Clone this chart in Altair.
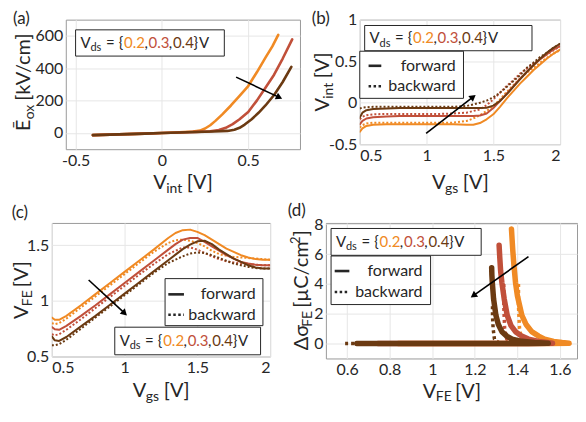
import altair as alt
import pandas as pd

FONT = "Lato"
INK = "#262626"
FRAME = "#9a9a9a"
GRID = "#e6e6e6"
C02, C03, C04 = "#F08A24", "#C1503A", "#6B3A12"

# ---------------- (a) E_ox vs V_int ----------------
A_V_02 = [-0.4, -0.3, -0.2, -0.1, 0.0, 0.1, 0.18, 0.22, 0.25, 0.28, 0.31, 0.35, 0.4, 0.45, 0.5, 0.55, 0.6, 0.64, 0.674]
A_E_02 = [-13, -10, -7, -4, 0, 4, 9, 15, 28, 48, 75, 115, 170, 230, 290, 375, 465, 535, 606]
A_V_03 = [-0.4, -0.3, -0.2, -0.1, 0.0, 0.1, 0.2, 0.28, 0.33, 0.37, 0.41, 0.45, 0.5, 0.55, 0.6, 0.65, 0.7, 0.755]
A_E_03 = [-13, -10, -7, -4, 0, 3, 7, 11, 18, 32, 55, 85, 130, 200, 280, 360, 460, 578]
A_V_04 = [-0.4, -0.3, -0.2, -0.1, 0.0, 0.1, 0.2, 0.3, 0.38, 0.42, 0.45, 0.48, 0.52, 0.56, 0.6, 0.65, 0.7, 0.75]
A_E_04 = [-13, -10, -7, -4, 0, 3, 6, 9, 13, 20, 32, 52, 85, 125, 170, 235, 315, 408]
A_ARROW = [(0.43, 345), (0.68, 220)]

# ---------------- (b) V_int vs V_gs ----------------
VGS = [0.5, 0.52, 0.55, 0.6, 0.7, 0.8, 0.9, 1.0, 1.1, 1.2, 1.3, 1.35, 1.4, 1.45, 1.5, 1.55, 1.6, 1.65, 1.7, 1.75, 1.8, 1.85, 1.9, 1.95, 2.0]
B_F_02 = [-0.35, -0.31, -0.28, -0.265, -0.26, -0.26, -0.26, -0.26, -0.26, -0.26, -0.265, -0.265, -0.245, -0.2, -0.14, -0.05, 0.05, 0.14, 0.23, 0.31, 0.39, 0.46, 0.53, 0.59, 0.64]
B_F_03 = [-0.26, -0.22, -0.19, -0.175, -0.165, -0.16, -0.16, -0.16, -0.16, -0.16, -0.16, -0.16, -0.155, -0.13, -0.065, 0.02, 0.11, 0.2, 0.29, 0.37, 0.45, 0.52, 0.58, 0.64, 0.68]
B_F_04 = [-0.18, -0.12, -0.09, -0.075, -0.07, -0.065, -0.065, -0.065, -0.065, -0.065, -0.065, -0.065, -0.065, -0.06, -0.035, 0.02, 0.1, 0.19, 0.28, 0.37, 0.45, 0.53, 0.6, 0.66, 0.71]
B_B_02 = [-0.30, -0.27, -0.25, -0.24, -0.24, -0.24, -0.24, -0.24, -0.24, -0.24, -0.22, -0.19, -0.15, -0.1, -0.04, 0.04, 0.13, 0.21, 0.29, 0.36, 0.42, 0.48, 0.54, 0.59, 0.63]
B_B_03 = [-0.2, -0.17, -0.15, -0.14, -0.135, -0.135, -0.135, -0.135, -0.135, -0.13, -0.12, -0.1, -0.08, -0.03, 0.04, 0.12, 0.2, 0.27, 0.35, 0.41, 0.47, 0.53, 0.58, 0.63, 0.68]
B_B_04 = [-0.07, -0.06, -0.055, -0.05, -0.05, -0.05, -0.05, -0.05, -0.05, -0.05, -0.04, -0.02, 0.0, 0.025, 0.065, 0.12, 0.19, 0.26, 0.33, 0.42, 0.48, 0.55, 0.6, 0.66, 0.71]
B_ARROW = [(0.997, -0.37), (1.349, 0.07)]

# ---------------- (c) V_FE vs V_gs ----------------
C_F_02 = [0.85, 0.83, 0.83, 0.865, 0.96, 1.06, 1.16, 1.26, 1.36, 1.46, 1.565, 1.61, 1.635, 1.64, 1.62, 1.59, 1.55, 1.51, 1.47, 1.44, 1.41, 1.39, 1.375, 1.37, 1.37]
C_F_03 = [0.765, 0.745, 0.74, 0.775, 0.865, 0.96, 1.06, 1.16, 1.26, 1.36, 1.46, 1.51, 1.55, 1.565, 1.565, 1.53, 1.49, 1.45, 1.41, 1.38, 1.35, 1.335, 1.325, 1.32, 1.32]
C_F_04 = [0.68, 0.645, 0.64, 0.675, 0.77, 0.865, 0.965, 1.065, 1.165, 1.265, 1.365, 1.415, 1.465, 1.505, 1.535, 1.54, 1.51, 1.46, 1.42, 1.38, 1.35, 1.32, 1.3, 1.29, 1.29]
C_B_02 = [0.8, 0.79, 0.8, 0.84, 0.94, 1.04, 1.14, 1.24, 1.34, 1.44, 1.52, 1.545, 1.55, 1.54, 1.52, 1.49, 1.45, 1.42, 1.405, 1.395, 1.39, 1.385, 1.38, 1.375, 1.37]
C_B_03 = [0.7, 0.69, 0.7, 0.74, 0.835, 0.935, 1.035, 1.135, 1.235, 1.33, 1.42, 1.45, 1.48, 1.48, 1.46, 1.43, 1.4, 1.375, 1.355, 1.345, 1.335, 1.33, 1.325, 1.32, 1.32]
C_B_04 = [0.6, 0.6, 0.61, 0.65, 0.75, 0.85, 0.95, 1.05, 1.15, 1.25, 1.34, 1.37, 1.4, 1.425, 1.435, 1.43, 1.41, 1.385, 1.36, 1.335, 1.32, 1.305, 1.295, 1.29, 1.29]
C_ARROW = [(0.753, 1.187), (1.0, 0.889)]

# ---------------- (d) delta sigma_FE vs V_FE ----------------
D_FX_02 = [0.84, 0.95, 1.05, 1.15, 1.25, 1.35, 1.45, 1.55, 1.643, 1.61, 1.57, 1.528, 1.5, 1.467, 1.44, 1.421, 1.40, 1.391, 1.384, 1.378, 1.375, 1.372]
D_FY_02 = [0, 0, 0, 0, 0, 0, 0, 0, 0.02, 0.07, 0.15, 0.3, 0.5, 0.8, 1.3, 1.9, 3.2, 4.1, 5.2, 6.3, 7.0, 7.7]
D_FX_03 = [0.745, 0.85, 0.95, 1.05, 1.15, 1.25, 1.35, 1.45, 1.565, 1.54, 1.5, 1.452, 1.42, 1.391, 1.37, 1.352, 1.338, 1.327, 1.321, 1.317, 1.314]
D_FY_03 = [0, 0, 0, 0, 0, 0, 0, 0, 0.02, 0.07, 0.15, 0.3, 0.5, 0.8, 1.2, 1.9, 3.0, 4.1, 4.9, 5.8, 6.6]
D_FX_04 = [0.645, 0.75, 0.85, 0.95, 1.05, 1.15, 1.25, 1.35, 1.45, 1.545, 1.48, 1.42, 1.375, 1.35, 1.327, 1.31, 1.299, 1.288, 1.282, 1.28, 1.279]
D_FY_04 = [0, 0, 0, 0, 0, 0, 0, 0, 0, 0.02, 0.07, 0.15, 0.3, 0.5, 0.8, 1.3, 1.9, 3.0, 4.1, 4.6, 5.1]
D_BX_02 = [1.405, 1.405, 1.41, 1.42, 1.45, 1.5, 1.55, 1.45, 1.3, 1.1, 0.95, 0.82]
D_BY_02 = [4.0, 2.5, 1.0, 0.3, 0.08, 0.02, 0.0, 0.0, 0.0, 0.0, 0.0, 0.0]
D_BX_03 = [1.336, 1.336, 1.34, 1.35, 1.38, 1.43, 1.49, 1.4, 1.2, 1.0, 0.85, 0.72]
D_BY_03 = [4.0, 2.5, 1.0, 0.3, 0.08, 0.02, 0.0, 0.0, 0.0, 0.0, 0.0, 0.0]
D_BX_04 = [1.283, 1.283, 1.286, 1.292, 1.31, 1.36, 1.43, 1.3, 1.1, 0.9, 0.75, 0.59]
D_BY_04 = [2.5, 1.8, 1.0, 0.3, 0.08, 0.02, 0.0, 0.0, 0.0, 0.0, 0.0, 0.0]
D_ARROW = [(1.452, 5.84), (1.193, 3.22)]

# ---------------- layout (reference page pixels, squeezed to fit the window) ----------------
SX, SY = 0.982, 0.975


def T(x, y):
    return 8 + (x - 8) * SX, 7 + (y - 7) * SY


ORIG_REF = {"a": (64, 17.5), "b": (362, 17.5), "c": (50, 226), "d": (328, 226)}
SIZE_REF = {"a": (239, 133), "b": (205, 128), "c": (223, 137), "d": (257, 140)}
ONE = pd.DataFrame({"k": [0]})


def lin(lo, hi):
    return alt.Scale(domain=[lo, hi], nice=False, zero=False)


def axis(vals):
    return alt.Axis(values=vals, title=None, labelExpr="'' + datum.value", grid=True,
                    gridColor=GRID, gridWidth=1, ticks=False, domain=False,
                    labelFont=FONT, labelFontSize=16, labelColor=INK, labelPadding=3)


class P:
    def __init__(self, key, xsc, ysc, xt, yt):
        self.key = key
        self.o = T(*ORIG_REF[key])
        self.xsc, self.ysc, self.xt, self.yt = xsc, ysc, xt, yt
        self.layers = []

    def rel(self, px, py):
        x, y = T(px, py)
        return x - self.o[0], y - self.o[1]

    def enc(self, ch):
        return ch.encode(x=alt.X("x:Q", scale=self.xsc, axis=axis(self.xt)),
                         y=alt.Y("y:Q", scale=self.ysc, axis=axis(self.yt)),
                         order=alt.Order("i:Q"))

    def line(self, xs, ys, color, width, dash=None, cap="round"):
        df = pd.DataFrame({"x": xs, "y": ys, "i": list(range(len(xs)))})
        kw = dict(color=color, strokeWidth=width, clip=True, strokeJoin="round", strokeCap=cap)
        if dash is not None:
            kw["strokeDash"] = dash
        self.layers.append(self.enc(alt.Chart(df).mark_line(**kw)))

    def arrow(self, pts, ang):
        df = pd.DataFrame({"x": [pts[0][0], pts[1][0]], "y": [pts[0][1], pts[1][1]], "i": [0, 1]})
        self.layers.append(self.enc(alt.Chart(df).mark_line(color="black", strokeWidth=1.6)))
        hd = pd.DataFrame({"x": [pts[1][0]], "y": [pts[1][1]], "i": [0]})
        self.layers.append(self.enc(alt.Chart(hd).mark_point(
            shape="triangle-up", filled=True, size=55, color="black", opacity=1, angle=ang)))

    def text(self, px, py, s, fs, col=INK, ang=0, align="left"):
        x, y = self.rel(px, py)
        self.layers.append(alt.Chart(ONE).mark_text(
            text=s, font=FONT, fontSize=fs, color=col, angle=ang, align=align,
            baseline="alphabetic").encode(x=alt.value(x), y=alt.value(y)))

    def box(self, x1, y1, x2, y2):
        a, b = self.rel(x1, y1)
        c, d = self.rel(x2, y2)
        self.layers.append(alt.Chart(ONE).mark_rect(fill="white", stroke=INK, strokeWidth=1).encode(
            x=alt.value(a), x2=alt.value(c), y=alt.value(b), y2=alt.value(d)))

    def seg(self, x1, x2, y, dash=None, width=2.6):
        a, b = self.rel(x1, y)
        c, _ = self.rel(x2, y)
        kw = dict(color=INK, strokeWidth=width)
        if dash is not None:
            kw["strokeDash"] = dash
        self.layers.append(alt.Chart(ONE).mark_rule(**kw).encode(
            x=alt.value(a), x2=alt.value(c), y=alt.value(b)))

    def anchor(self, px, py):
        # 1x1 white pixel that fixes the panel's layout bounds
        a, b = self.rel(px, py)
        self.layers.append(alt.Chart(ONE).mark_rect(fill="white", strokeWidth=0).encode(
            x=alt.value(a), x2=alt.value(a + 1), y=alt.value(b), y2=alt.value(b + 1)))

    def vds(self, x1, y1, x2, y2):
        self.box(x1, y1, x2, y2)
        base = (y1 + y2) / 2 + 5.2
        pieces = [(5, "V", 15, INK, 0), (15.2, "ds", 11, INK, 3.5), (31, "=", 15, INK, 0),
                  (44, "{", 15, INK, 0), (49.5, "0.2", 15, C02, 0), (70.3, ",", 15, INK, 0),
                  (74.5, "0.3", 15, C03, 0), (95.3, ",", 15, INK, 0), (99.5, "0.4", 15, C04, 0),
                  (120.5, "}", 15, INK, 0), (126, "V", 15, INK, 0)]
        for dx, s, fs, col, dy in pieces:
            self.text(x1 + dx, base + dy, s, fs, col)

    def fwdbwd(self, x1, y1, x2, y2, lx1, lx2, ty1, ty2, tr):
        self.box(x1, y1, x2, y2)
        self.seg(lx1, lx2, ty1 - 5)
        self.seg(lx1, lx2, ty2 - 5, dash=[2.5, 2.5])
        self.text(tr, ty1, "forward", 16, align="right")
        self.text(tr, ty2, "backward", 16, align="right")

    def xtitle(self, x0, base, sub, wsub):
        self.text(x0, base, "V", 20)
        self.text(x0 + 13.2, base + 3.5, sub, 14)
        self.text(x0 + 13.2 + wsub + 5, base, "[V]", 20)

    def ytitle(self, bx, y0, sub, wsub):
        self.text(bx, y0, "V", 20, ang=270)
        self.text(bx + 4, y0 - 13.2, sub, 14, ang=270)
        self.text(bx, y0 - 13.2 - wsub - 5, "[V]", 20, ang=270)

    def chart(self):
        w, h = SIZE_REF[self.key]
        return alt.layer(*self.layers).properties(width=round(w * SX), height=round(h * SY))


def spacer():
    return (alt.Chart(ONE).mark_rect(fill="white", strokeWidth=0)
            .encode(x=alt.value(0), x2=alt.value(1), y=alt.value(0), y2=alt.value(1))
            .properties(width=1, height=1, view={"strokeOpacity": 0}))


# ----- panel (a)
pa = P("a", lin(-0.557, 0.8), lin(-100, 700), [-0.5, 0, 0.5], [0, 200, 400, 600])
pa.anchor(7, 7)
pa.anchor(304, 198.5)
pa.line(A_V_02, A_E_02, C02, 2.6)
pa.line(A_V_03, A_E_03, C03, 2.6)
pa.line(A_V_04, A_E_04, C04, 2.6)
pa.arrow(A_ARROW, 115.5)
pa.vds(74, 28, 226, 55)
pa.text(10, 22, "(a)", 17)
pa.xtitle(153.4, 192, "int", 16)
pa.text(27, 132, "Ē", 20, ang=270)
pa.text(31, 120, "ox", 14, ang=270)
pa.text(27, 101, "[kV/cm]", 20, ang=270)

# ----- panel (b)
pb = P("b", lin(0.5, 2), lin(-0.5, 1), [0.5, 1, 1.5, 2], [-0.5, 0, 0.5, 1])
pb.anchor(305, 7)
for ys, c in [(B_B_02, C02), (B_B_03, C03), (B_B_04, C04)]:
    pb.line(VGS, ys, c, 2.0, dash=[2, 2], cap="butt")
for ys, c in [(B_F_02, C02), (B_F_03, C03), (B_F_04, C04)]:
    pb.line(VGS, ys, c, 2.0)
pb.arrow(B_ARROW, 52)
pb.vds(367, 23.5, 538, 49.5)
pb.fwdbwd(362, 50, 468, 98.5, 371, 384, 70, 91, 460)
pb.text(313, 22, "(b)", 17)
pb.xtitle(435.8, 192, "gs", 13.3)
pb.ytitle(331, 112.1, "int", 16)

# ----- panel (c)
pc = P("c", lin(0.5, 2), lin(0.5, 1.7), [0.5, 1, 1.5, 2], [0.5, 1, 1.5])
pc.anchor(7, 200)
pc.anchor(279, 200)
for ys, c in [(C_B_02, C02), (C_B_03, C03), (C_B_04, C04)]:
    pc.line(VGS, ys, c, 2.0, dash=[2, 2], cap="butt")
for ys, c in [(C_F_02, C02), (C_F_03, C03), (C_F_04, C04)]:
    pc.line(VGS, ys, c, 2.0)
pc.arrow(C_ARROW, 133.2)
pc.fwdbwd(165.7, 283.3, 265.7, 331.7, 169, 185, 304.5, 325.5, 258.3)
pc.vds(114.3, 333.3, 263.3, 361.7)
pc.text(9, 221, "(c)", 17)
pc.xtitle(132.8, 405.5, "gs", 13.3)
pc.ytitle(26, 324.9, "FE", 14.6)

# ----- panel (d)
pd_ = P("d", lin(0.5, 1.68), lin(-1, 8.1), [0.6, 0.8, 1, 1.2, 1.4, 1.6], [0, 2, 4, 6, 8])
pd_.anchor(280, 200)
for xs, ys, c in [(D_BX_02, D_BY_02, C02), (D_BX_03, D_BY_03, C03), (D_BX_04, D_BY_04, C04)]:
    pd_.line(xs, ys, c, 3.5, dash=[3, 3], cap="butt")
for xs, ys, c in [(D_FX_02, D_FY_02, C02), (D_FX_03, D_FY_03, C03), (D_FX_04, D_FY_04, C04)]:
    pd_.line(xs, ys, c, 5.5)
pd_.arrow(D_ARROW, 234.7)
pd_.vds(333.3, 231.7, 486.7, 259.3)
pd_.fwdbwd(333.3, 260, 435, 310, 337, 352, 280.5, 302, 426.7)
pd_.text(289, 219, "(d)", 17)
pd_.xtitle(427.1, 406, "FE", 14.6)
pd_.text(310, 356.9, "Δσ", 20, ang=270)
pd_.text(314, 332.9, "FE", 14, ang=270)
pd_.text(310, 313.3, "[µC/cm", 20, ang=270)
pd_.text(302, 247.7, "2", 13, ang=270)
pd_.text(310, 239.7, "]", 20, ang=270)

row1 = alt.hconcat(spacer(), pa.chart(), pb.chart(), spacing=0)
row2 = alt.hconcat(spacer(), pc.chart(), pd_.chart(), spacing=0)
chart = (alt.vconcat(row1, row2, spacing=0)
         .properties(padding=0, background="white")
         .configure_view(stroke=FRAME, strokeWidth=1))

chart.save("out.html", embed_options={"renderer": "svg", "actions": False})
